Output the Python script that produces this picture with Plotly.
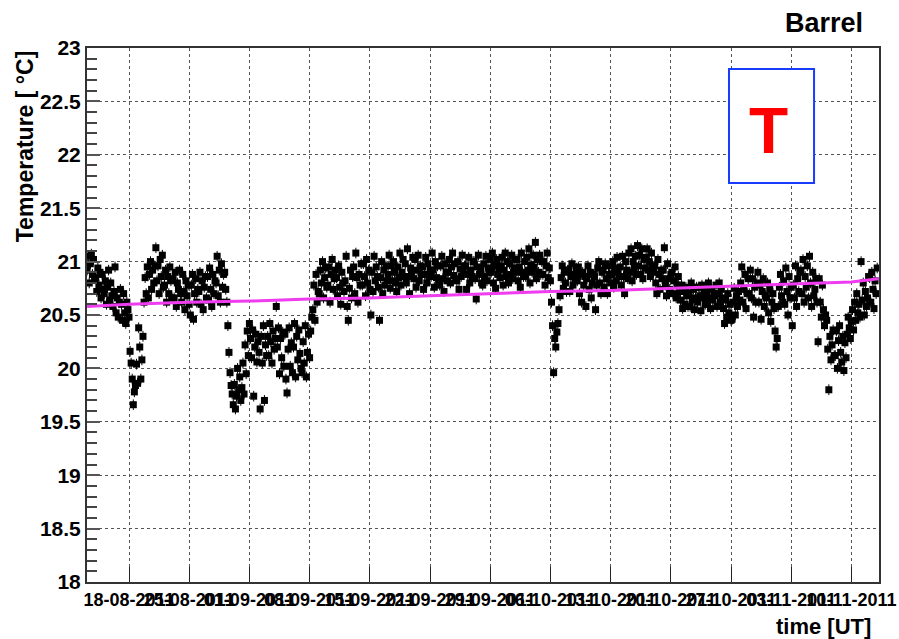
import datetime as dt
import plotly.graph_objects as go

# Barrel temperature samples, one row per day, eight readings per day (every 3 h),
# first reading 2011-08-13 03:00
temperature_rows = [
    [20.92, 21.05, 20.80, 20.98, 21.07, 20.88, 21.02, 20.84],  # 13 Aug
    [20.85, 20.72, 20.94, 20.78, 20.90, 20.66, 20.88, 20.74],
    [20.70, 20.82, 20.60, 20.76, 20.92, 20.64, 20.80, 20.68],
    [20.58, 20.72, 20.95, 20.52, 20.66, 20.48, 20.62, 20.74],
    [20.60, 20.45, 20.70, 20.52, 20.42, 20.62, 20.55, 20.48],
    [20.16, 20.05, 19.90, 19.66, 19.78, 19.84, 20.04, 19.86],  # 18 Aug
    [20.38, 20.20, 19.90, 20.08, 20.30, 20.62, 20.85, 20.70],
    [20.95, 20.66, 20.88, 21.00, 20.74, 20.92, 20.80, 20.96],
    [21.13, 20.82, 20.96, 20.70, 21.02, 20.86, 21.06, 20.76],
    [20.78, 20.92, 20.62, 20.86, 20.70, 20.95, 20.82, 20.66],
    [20.84, 20.66, 20.90, 20.58, 20.80, 20.74, 20.92, 20.70],
    [20.62, 20.88, 20.72, 20.55, 20.82, 20.68, 20.78, 20.60],
    [20.50, 20.78, 20.88, 20.46, 20.70, 20.84, 20.62, 20.74],  # 25 Aug
    [20.72, 20.90, 20.60, 20.82, 20.55, 20.76, 20.86, 20.66],
    [20.86, 20.64, 20.94, 20.74, 20.58, 20.88, 20.70, 20.82],
    [20.80, 21.05, 20.68, 20.92, 20.62, 20.98, 20.76, 20.88],
    [20.90, 20.74, 20.62, 20.40, 20.15, 19.96, 19.84, 19.76],
    [19.66, 19.85, 19.62, 19.74, 20.00, 19.80, 19.92, 19.70],
    [19.82, 20.05, 19.76, 20.22, 19.95, 20.35, 20.12, 20.42],
    [20.28, 20.10, 20.36, 19.74, 20.20, 20.32, 20.06, 20.25],  # 01 Sep
    [20.15, 19.62, 20.30, 20.05, 20.40, 19.70, 20.22, 20.12],
    [20.30, 20.12, 20.42, 20.25, 20.05, 20.35, 20.18, 20.28],
    [20.58, 20.20, 20.38, 19.95, 20.28, 20.10, 20.34, 20.02],
    [20.32, 19.90, 19.77, 20.18, 20.38, 20.02, 20.24, 19.96],
    [20.20, 20.42, 19.92, 20.30, 20.08, 20.36, 20.14, 20.00],
    [19.96, 20.25, 20.05, 20.40, 19.92, 20.15, 20.32, 20.10],
    [20.35, 20.48, 20.55, 20.78, 20.45, 20.88, 20.62, 20.72],  # 08 Sep
    [20.70, 20.92, 20.80, 21.00, 20.66, 20.85, 20.94, 20.76],
    [20.78, 20.95, 20.62, 20.88, 21.02, 20.74, 20.84, 20.92],
    [20.85, 20.68, 20.96, 20.76, 20.60, 20.90, 20.80, 20.72],
    [20.82, 21.05, 20.58, 20.45, 20.75, 20.92, 20.66, 20.86],
    [20.95, 20.70, 21.08, 20.85, 20.62, 20.88, 20.78, 20.98],
    [20.78, 20.98, 20.86, 20.68, 21.02, 20.80, 20.92, 20.74],
    [20.50, 20.90, 20.72, 21.05, 20.82, 20.95, 20.86, 20.76],  # 15 Sep
    [20.45, 20.85, 21.00, 20.70, 20.92, 20.78, 20.96, 20.82],
    [20.88, 21.06, 20.75, 20.96, 20.82, 21.00, 20.90, 20.80],
    [20.72, 20.95, 20.85, 21.08, 20.78, 20.90, 21.02, 20.86],
    [20.98, 20.80, 21.12, 20.86, 20.70, 20.94, 20.88, 21.04],
    [20.84, 21.02, 20.76, 20.92, 21.06, 20.82, 20.96, 20.88],
    [20.95, 20.74, 20.88, 21.04, 20.80, 20.98, 20.86, 20.92],
    [20.86, 21.08, 20.92, 20.76, 21.00, 20.85, 20.96, 20.80],  # 22 Sep
    [20.78, 20.96, 21.05, 20.84, 20.72, 20.98, 20.90, 20.82],
    [20.90, 21.02, 20.80, 20.95, 21.08, 20.87, 20.98, 20.84],
    [20.82, 21.00, 20.74, 20.93, 20.86, 21.06, 20.90, 20.96],
    [20.96, 20.74, 20.88, 21.04, 20.80, 20.92, 20.86, 21.00],
    [21.00, 20.84, 20.65, 20.95, 21.06, 20.88, 20.92, 20.80],
    [20.78, 20.98, 20.86, 21.05, 20.82, 20.94, 20.90, 21.02],
    [20.90, 21.08, 20.80, 20.96, 20.75, 21.02, 20.88, 20.94],  # 29 Sep
    [20.85, 20.96, 21.04, 20.78, 20.92, 21.08, 20.86, 21.00],
    [20.80, 20.98, 20.88, 21.06, 20.84, 20.94, 21.02, 20.90],
    [21.02, 20.82, 20.95, 20.76, 21.08, 20.90, 20.86, 21.00],
    [20.86, 21.04, 20.92, 21.12, 20.80, 20.97, 20.90, 21.06],
    [20.95, 21.18, 20.84, 21.02, 20.90, 21.06, 20.88, 21.00],
    [20.88, 21.00, 20.78, 20.96, 21.08, 20.85, 20.94, 20.82],
    [20.62, 20.40, 19.96, 20.28, 20.20, 20.34, 20.42, 20.55],  # 06 Oct
    [20.68, 20.85, 20.96, 20.75, 20.90, 20.80, 20.72, 20.92],
    [20.92, 20.72, 20.86, 20.98, 20.78, 20.88, 20.82, 20.94],
    [20.82, 20.95, 20.70, 20.88, 20.62, 20.90, 20.78, 20.86],
    [20.58, 20.84, 20.96, 20.74, 20.90, 20.66, 20.80, 20.88],
    [20.86, 20.55, 20.78, 20.94, 21.00, 20.80, 20.70, 20.90],
    [20.92, 20.76, 20.98, 20.84, 20.70, 20.96, 20.88, 20.80],
    [20.88, 21.00, 20.76, 20.94, 20.82, 21.04, 20.90, 20.86],  # 13 Oct
    [20.95, 20.78, 21.05, 20.86, 20.70, 21.00, 20.92, 20.84],
    [21.08, 20.90, 21.12, 20.82, 21.00, 20.94, 21.05, 20.88],
    [21.15, 20.96, 21.06, 20.88, 21.12, 20.84, 21.02, 20.94],
    [21.04, 21.12, 20.92, 21.00, 20.86, 21.08, 20.96, 20.90],
    [20.96, 20.80, 20.70, 21.02, 20.88, 20.74, 20.92, 20.84],
    [20.92, 21.13, 20.78, 20.68, 20.98, 20.84, 20.74, 20.88],
    [20.90, 20.70, 20.82, 20.95, 20.66, 20.78, 20.86, 20.72],  # 20 Oct
    [20.64, 20.78, 20.56, 20.72, 20.60, 20.76, 20.68, 20.58],
    [20.70, 20.58, 20.80, 20.64, 20.74, 20.55, 20.66, 20.76],
    [20.62, 20.76, 20.68, 20.54, 20.78, 20.66, 20.72, 20.60],
    [20.72, 20.60, 20.80, 20.66, 20.56, 20.74, 20.64, 20.70],
    [20.68, 20.78, 20.58, 20.70, 20.80, 20.62, 20.74, 20.66],
    [20.56, 20.42, 20.64, 20.48, 20.70, 20.52, 20.60, 20.45],
    [20.46, 20.62, 20.75, 20.50, 20.68, 20.58, 20.72, 20.64],  # 27 Oct
    [20.80, 20.95, 20.62, 20.74, 20.88, 20.56, 20.70, 20.84],
    [20.70, 20.92, 20.66, 20.84, 20.48, 20.76, 20.62, 20.80],
    [20.90, 20.62, 20.78, 20.46, 20.72, 20.84, 20.58, 20.68],
    [20.66, 20.80, 20.52, 20.74, 20.44, 20.62, 20.70, 20.56],
    [20.35, 20.20, 20.28, 20.58, 20.76, 20.88, 20.68, 20.62],
    [20.82, 20.60, 20.94, 20.72, 20.50, 20.86, 20.66, 20.76],
    [20.40, 20.78, 20.66, 20.96, 20.58, 20.84, 20.72, 20.90],  # 03 Nov
    [20.92, 20.70, 21.02, 20.62, 20.86, 20.76, 20.96, 20.66],
    [21.05, 20.80, 20.58, 20.90, 20.68, 20.74, 20.84, 20.62],
    [20.25, 20.84, 20.62, 20.48, 20.78, 20.55, 20.40, 20.50],
    [20.45, 20.18, 19.80, 20.30, 20.08, 20.22, 20.36, 20.12],
    [20.12, 20.35, 20.00, 20.26, 20.40, 20.15, 20.06, 20.30],
    [19.98, 20.24, 20.10, 20.32, 20.48, 20.38, 20.28, 20.44],
    [20.55, 20.36, 20.62, 20.45, 20.70, 20.52, 20.60, 20.48],  # 10 Nov
    [21.00, 20.64, 20.80, 20.50, 20.72, 20.58, 20.66, 20.86],
    [20.85, 20.62, 20.90, 20.74, 20.56, 20.82, 20.70, 20.94],
]
sample_step_hours = 3
first_sample = dt.datetime(2011, 8, 13, 3, 0)

# Long-term trend line (weekly nodes)
trend_dates = ["2011-08-13 03:00", "2011-08-18", "2011-08-25", "2011-09-01",
               "2011-09-08", "2011-09-15", "2011-09-22", "2011-09-29",
               "2011-10-06", "2011-10-13", "2011-10-20", "2011-10-27",
               "2011-11-03", "2011-11-10", "2011-11-13 04:00"]
trend_values = [20.58, 20.60, 20.62, 20.63, 20.65, 20.66, 20.68, 20.70,
                20.72, 20.73, 20.75, 20.77, 20.79, 20.81, 20.84]

temp_error = 0.05

temps = [v for row in temperature_rows for v in row]
times = [first_sample + dt.timedelta(hours=sample_step_hours * i) for i in range(len(temps))]

FONT = "Liberation Sans, Arial, sans-serif"

fig = go.Figure()
fig.add_trace(go.Scatter(
    x=times, y=temps, mode="markers",
    marker=dict(symbol="square", size=7, color="black", line=dict(width=0)),
    error_y=dict(type="constant", value=temp_error, thickness=1, width=0, color="black"),
    showlegend=False,
))
fig.add_trace(go.Scatter(
    x=trend_dates, y=trend_values, mode="lines",
    line=dict(color="#ee3cee", width=3),
    showlegend=False,
))

fig.update_layout(
    width=899, height=639,
    margin=dict(l=87, r=20, t=48, b=57),
    paper_bgcolor="white", plot_bgcolor="white",
    font=dict(family=FONT, color="black"),
)
fig.update_xaxes(
    type="date", automargin=False,
    range=["2011-08-13 02:47", "2011-11-13 05:00"],
    tick0="2011-08-18", dtick=7 * 24 * 3600 * 1000,
    tickformat="%d-%m-%Y", tickangle=0,
    ticks="inside", ticklen=15, tickwidth=1, tickcolor="#222",
    tickfont=dict(family=FONT, size=18, weight="bold", color="black"),
    showgrid=True, gridcolor="#555", griddash="dot", gridwidth=1,
    showline=True, linecolor="#333", linewidth=2, mirror=True,
    zeroline=False,
)
fig.update_yaxes(
    automargin=False,
    range=[18, 23], dtick=0.5, tick0=18,
    ticks="inside", ticklen=13, tickwidth=2, tickcolor="#555",
    minor=dict(dtick=0.1, ticks="inside", ticklen=10, tickwidth=2, tickcolor="#444", showgrid=False),
    tickfont=dict(family=FONT, size=21, weight="bold", color="black"),
    showgrid=True, gridcolor="#555", griddash="dot", gridwidth=1,
    showline=True, linecolor="#333", linewidth=2, mirror=True,
    zeroline=False,
)

# Legend box with the channel tag
fig.add_shape(type="rect", xref="paper", yref="paper",
              x0=0.8106, x1=0.918, y0=0.7472, y1=0.9607,
              line=dict(color="#1a3cff", width=2), fillcolor="white", layer="above")
fig.add_annotation(text="T", xref="paper", yref="paper", x=0.86, y=0.845,
                   showarrow=False, xanchor="center", yanchor="middle",
                   font=dict(family=FONT, size=64, weight="bold", color="#ff0000"))

# Titles
fig.add_annotation(text="Barrel", xref="paper", yref="paper", x=0.982, y=1.047,
                   showarrow=False, xanchor="right", yanchor="middle",
                   font=dict(family=FONT, size=27, weight="bold", color="black"))
fig.add_annotation(text="time [UT]", xref="paper", yref="paper", x=0.992, y=-0.084,
                   showarrow=False, xanchor="right", yanchor="middle",
                   font=dict(family=FONT, size=22, weight="bold", color="black"))
fig.add_annotation(text="Temperature [ °C]", xref="paper", yref="paper", x=-0.078, y=1.0,
                   showarrow=False, xanchor="center", yanchor="top", textangle=-90,
                   font=dict(family=FONT, size=23, weight="bold", color="black"))

fig.write_html("out.html")
